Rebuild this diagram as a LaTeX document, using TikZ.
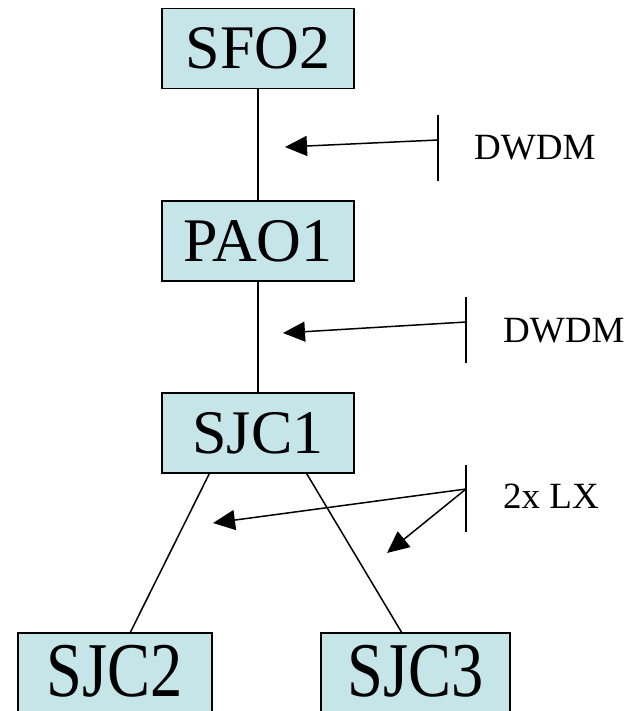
\documentclass[tikz,border=0pt]{standalone}
\usepackage{fontspec}
\setmainfont{Liberation Serif}
\usetikzlibrary{arrows.meta,calc}
\definecolor{boxfill}{RGB}{198,229,232}
\tikzset{
  site/.style={draw=black, fill=boxfill, line width=1.5pt, minimum width=192pt, minimum height=80pt, inner sep=0pt, font=\fontsize{62}{62}\selectfont},
  sitebox/.style={draw=black, fill=boxfill, line width=1.5pt},
  sitetext/.style={inner sep=0pt, font=\fontsize{62}{62}\selectfont},
  link/.style={line width=1.5pt},
  tick/.style={line width=1.5pt},
  pointer/.style={line width=1.5pt, -{Triangle[length=22pt,width=20pt]}},
  lbl/.style={inner sep=0pt, anchor=base west, font=\fontsize{37}{37}\selectfont}
}
\begin{document}
\begin{tikzpicture}[x=1pt,y=-1pt]
\useasboundingbox (0,0) rectangle (634,711);
\clip (0,0) rectangle (634,711);
\node[site] (SFO2) at (258,48.5) {SFO2};
\node[site] (PAO1) at (258,241) {PAO1};
\node[site] (SJC1) at (258,433) {SJC1};
% bottom boxes run off the lower edge
\coordinate (b2nw) at (18,633);
\coordinate (b2se) at (212,730);
\coordinate (b3nw) at (321,633);
\coordinate (b3se) at (510,730);
\path[sitebox] (b2nw) rectangle (b2se);
\path[sitebox] (b3nw) rectangle (b3se);
\node[sitetext] (SJC2) at (115,671) {\scalebox{1.04}[1.25]{SJC2}};
\node[sitetext] (SJC3) at (415.5,671) {\scalebox{1.04}[1.25]{SJC3}};
\coordinate (in2) at ($(b2nw)+(112,0)$);
\coordinate (in3) at ($(b3nw)+(81,0)$);
\draw[link] (SFO2.south) -- (PAO1.north);
\draw[link] (PAO1.south) -- (SJC1.north);
\draw[link] ($(SJC1.south west)+(48,0)$) -- (in2);
\draw[link] ($(SJC1.south east)+(-48,0)$) -- (in3);
% DWDM 1
\coordinate (t1a) at (438,115);
\coordinate (t1b) at (438,181);
\coordinate (t1m) at (438,140);
\coordinate (a1) at (285,147);
\draw[tick] (t1a) -- (t1b);
\draw[pointer] (t1m) -- (a1);
\node[lbl] (L1) at (474,160) {DWDM};
% DWDM 2
\coordinate (t2a) at (466,297);
\coordinate (t2b) at (466,363);
\coordinate (t2m) at (466,322);
\coordinate (a2) at (283,333);
\draw[tick] (t2a) -- (t2b);
\draw[pointer] (t2m) -- (a2);
\node[lbl] (L2) at (503,342) {DWDM};
% 2x LX
\coordinate (t3a) at (466,465);
\coordinate (t3b) at (466,532);
\coordinate (t3m) at (466,489);
\coordinate (a3) at (213,523);
\coordinate (a4) at (387,553);
\draw[tick] (t3a) -- (t3b);
\draw[pointer] (t3m) -- (a3);
\draw[pointer] (t3m) -- (a4);
\node[lbl] (L3) at (503,508) {2x LX};
\end{tikzpicture}
\end{document}
